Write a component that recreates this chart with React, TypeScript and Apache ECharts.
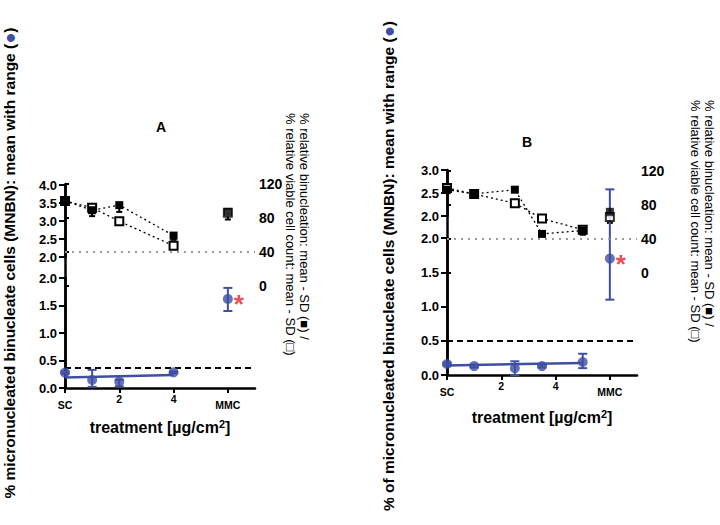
import React, { useEffect, useRef } from 'react';
import * as echarts from 'echarts';

const FONT = '"Liberation Sans", Arial, Helvetica, sans-serif';
const BLUE = '#3F4FA3';
const RED = '#E3202A';

// shared axis ticks
const xTickValues = [0, 2, 4, 6];
const xTickLabels = ['SC', '2', '4', 'MMC'];
const rightTickValues = [0, 40, 80, 120];
const mmcX = 6;
const cytoLimit = 40;

// ---------- Panel A ----------
const doseA = [0, 1, 2, 4];
const mnbnA = [0.28, 0.145, 0.115, 0.285];
const mnbnMinA = [0.26, 0.02, 0.03, 0.27];
const mnbnMaxA = [0.3, 0.33, 0.15, 0.3];
const fitXA = [0, 4];
const fitA = [0.19, 0.235];
const mmcMnbnA = [1.62, 1.4, 1.82]; // mean, min, max
const binA = [100, 89, 95, 59];
const binSdA = [0, 7, 8, 5];
const viaA = [100, 92, 76, 47];
const viaSdA = [0, 4, 0, 0];
const mmcBinA = [87, 9]; // mean, SD
const mmcViaA = [86, 0];
const limitA = 0.37;

// ---------- Panel B ----------
const doseB = [0, 1, 2.5, 3.5, 5];
const mnbnB = [0.16, 0.13, 0.1, 0.13, 0.19];
const mnbnMinB = [0.14, 0.11, 0.0, 0.11, 0.1];
const mnbnMaxB = [0.18, 0.15, 0.2, 0.15, 0.31];
const fitXB = [0, 5];
const fitB = [0.14, 0.175];
const mmcMnbnB = [1.7, 1.1, 2.71];
const binB = [98, 93, 98, 46, 50];
const binSdB = [4, 3, 0, 0, 5];
const viaB = [100, 93, 82, 64, 51];
const viaSdB = [0, 0, 0, 0, 0];
const mmcBinB = [72, 5];
const mmcViaB = [66, 7];
const limitB = 0.5;

const zip = (xs: number[], ys: number[]) => xs.map((x, i) => [x, ys[i]]);

const rangeRender = (color: string, cap: number, capTop: boolean) => (params: any, api: any) => {
  const x = api.value(0);
  const lo = api.value(1);
  const hi = api.value(2);
  const p1 = api.coord([x, hi]);
  const p2 = api.coord([x, lo]);
  const st = { stroke: color, lineWidth: 2 };
  const children: any[] = [
    { type: 'line', shape: { x1: p1[0], y1: p1[1], x2: p2[0], y2: p2[1] }, style: st },
    { type: 'line', shape: { x1: p2[0] - cap / 2, y1: p2[1], x2: p2[0] + cap / 2, y2: p2[1] }, style: st },
  ];
  if (capTop) {
    children.push({ type: 'line', shape: { x1: p1[0] - cap / 2, y1: p1[1], x2: p1[0] + cap / 2, y2: p1[1] }, style: st });
  }
  return { type: 'group', children };
};

const labelStyle = { color: '#000', fontFamily: FONT, fontWeight: 'bold' as const, fontSize: 13 };
const axisLine = { show: true, lineStyle: { color: '#000', width: 2.5 } };
const axisTick = { show: true, length: 5, lineStyle: { color: '#000', width: 2 } };

function panelAxes(base: number, upperMax: number, nameGap: number) {
  const xAxes: any[] = [
    { gridIndex: base, type: 'value', min: 0, max: 7, show: false },
    {
      gridIndex: base + 1,
      type: 'value',
      min: 0,
      max: 7,
      splitLine: { show: false },
      axisLine,
      axisTick: { ...axisTick, customValues: xTickValues },
      axisLabel: {
        customValues: xTickValues,
        margin: 5,
        formatter: (v: number) => {
          const i = xTickValues.indexOf(v);
          const t = i >= 0 ? xTickLabels[i] : '';
          return v === 0 || v === mmcX ? '{s|' + t + '}' : '{n|' + t + '}';
        },
        rich: {
          s: { fontFamily: FONT, fontWeight: 'bold', fontSize: 10.5, color: '#000', padding: [6, 0, 0, 0] },
          n: { fontFamily: FONT, fontWeight: 'bold', fontSize: 10.5, color: '#000' },
        },
      },
      name: 'treatment [µg/cm{sup|2}]',
      nameLocation: 'middle',
      nameGap,
      nameTextStyle: {
        fontFamily: FONT,
        fontWeight: 'bold',
        fontSize: 16,
        color: '#000',
        rich: { sup: { fontFamily: FONT, fontWeight: 'bold', fontSize: 11, color: '#000', verticalAlign: 'top', padding: [0, 0, 8, 0] } },
      },
    },
    { gridIndex: base + 2, type: 'value', min: 0, max: 7, show: false },
  ];
  const yAxes: any[] = [
    {
      gridIndex: base,
      type: 'value',
      min: 2,
      max: upperMax,
      interval: 0.5,
      position: 'left',
      splitLine: { show: false },
      axisLine,
      axisTick: { ...axisTick, length: 6 },
      axisLabel: { ...labelStyle, margin: 8, formatter: (v: number) => v.toFixed(1) },
    },
    {
      gridIndex: base + 1,
      type: 'value',
      min: 0,
      max: 2,
      interval: 0.5,
      position: 'left',
      splitLine: { show: false },
      axisLine,
      axisTick: { ...axisTick, length: 6 },
      axisLabel: { ...labelStyle, margin: 8, formatter: (v: number) => v.toFixed(1) },
    },
    {
      gridIndex: base + 2,
      type: 'value',
      min: -120,
      max: 120,
      interval: 40,
      position: 'right',
      splitLine: { show: false },
      axisLine,
      axisTick: { ...axisTick, length: 4, customValues: rightTickValues },
      axisLabel: { ...labelStyle, fontSize: 14, margin: 4, customValues: rightTickValues },
    },
  ];
  return { xAxes, yAxes };
}

function panelSeries(
  base: number,
  dose: number[],
  mnbn: number[],
  mnbnMin: number[],
  mnbnMax: number[],
  fitX: number[],
  fit: number[],
  mmcMnbn: number[],
  bin: number[],
  binSd: number[],
  via: number[],
  viaSd: number[],
  mmcBin: number[],
  mmcVia: number[],
  limit: number
) {
  const up = base;
  const lo = base + 1;
  const rt = base + 2;
  const sdBars: number[][] = [];
  dose.forEach((x, i) => {
    if (binSd[i] > 0) sdBars.push([x, bin[i] - binSd[i], bin[i]]);
    if (viaSd[i] > 0) sdBars.push([x, via[i] - viaSd[i], via[i]]);
  });
  if (mmcBin[1] > 0) sdBars.push([mmcX, mmcBin[0] - mmcBin[1], mmcBin[0]]);
  if (mmcVia[1] > 0) sdBars.push([mmcX, mmcVia[0] - mmcVia[1], mmcVia[0]]);

  const ranges = dose.map((x, i) => [x, mnbnMin[i], mnbnMax[i]]);
  ranges.push([mmcX, mmcMnbn[1], mmcMnbn[2]]);

  const dotted = { color: '#000', width: 1.3, type: [2, 3] as number[] };
  return [
    { type: 'scatter', xAxisIndex: up, yAxisIndex: up, data: [], silent: true },
    {
      type: 'custom',
      xAxisIndex: rt,
      yAxisIndex: rt,
      data: sdBars,
      renderItem: rangeRender('#000', 6, false),
      z: 3,
      silent: true,
    },
    {
      type: 'line',
      xAxisIndex: rt,
      yAxisIndex: rt,
      data: zip(dose, via),
      symbol: 'rect',
      symbolSize: 8,
      itemStyle: { color: '#fff', borderColor: '#000', borderWidth: 2 },
      lineStyle: dotted,
      z: 4,
      silent: true,
    },
    {
      type: 'line',
      xAxisIndex: rt,
      yAxisIndex: rt,
      data: zip(dose, bin),
      symbol: 'rect',
      symbolSize: 8,
      itemStyle: { color: '#000' },
      lineStyle: dotted,
      z: 5,
      silent: true,
      markLine: {
        silent: true,
        symbol: ['none', 'none'],
        label: { show: false },
        lineStyle: { color: '#9a9a9a', width: 2, type: [2, 5] },
        data: [{ yAxis: cytoLimit }],
      },
    },
    {
      type: 'scatter',
      xAxisIndex: rt,
      yAxisIndex: rt,
      data: [[mmcX, mmcVia[0]]],
      symbol: 'rect',
      symbolSize: 8,
      itemStyle: { color: '#fff', borderColor: '#000', borderWidth: 2 },
      z: 6,
      silent: true,
    },
    {
      type: 'scatter',
      xAxisIndex: rt,
      yAxisIndex: rt,
      data: [[mmcX, mmcBin[0]]],
      symbol: 'rect',
      symbolSize: 8,
      itemStyle: { color: '#000' },
      z: 7,
      silent: true,
    },
    {
      type: 'line',
      xAxisIndex: lo,
      yAxisIndex: lo,
      data: zip(fitX, fit),
      symbol: 'none',
      lineStyle: { color: BLUE, width: 2.5 },
      z: 3,
      silent: true,
      markLine: {
        silent: true,
        symbol: ['none', 'none'],
        label: { show: false },
        lineStyle: { color: '#000', width: 2, type: [6, 4] },
        data: [{ yAxis: limit }],
      },
    },
    {
      type: 'custom',
      xAxisIndex: lo,
      yAxisIndex: lo,
      data: ranges,
      renderItem: rangeRender(BLUE, 9, true),
      z: 4,
      silent: true,
    },
    {
      type: 'scatter',
      xAxisIndex: lo,
      yAxisIndex: lo,
      data: [...zip(dose, mnbn), [mmcX, mmcMnbn[0]]],
      symbol: 'circle',
      symbolSize: 10,
      itemStyle: { color: BLUE },
      z: 5,
      silent: true,
    },
    {
      type: 'scatter',
      xAxisIndex: lo,
      yAxisIndex: lo,
      data: [[mmcX, mmcMnbn[0]]],
      symbolSize: 0,
      label: {
        show: true,
        position: 'right',
        formatter: '*',
        offset: [1, 5],
        color: RED,
        fontFamily: FONT,
        fontWeight: 'bold',
        fontSize: 26,
      },
      z: 6,
      silent: true,
    },
  ];
}

export default function App() {
  const ref = useRef<HTMLDivElement>(null);
  useEffect(() => {
    if (!ref.current) return;
    const chart = echarts.init(ref.current, undefined, { renderer: 'svg' });
    const a = panelAxes(0, 4, 30);
    const b = panelAxes(3, 3, 33);
    const leftName = (t: string, size: number) => ({
      text: t + ' ({b|●})',
      fill: '#000',
      font: 'bold ' + size + 'px ' + FONT,
      align: 'center',
      verticalAlign: 'middle',
      rich: { b: { fill: BLUE, fontSize: size + 3, fontWeight: 'bold', fontFamily: FONT } },
    });
    const rightName = {
      text: '% relative binucleation: mean - SD (■) /\n% relative viable cell count: mean - SD (□)',
      fill: '#000',
      font: '13px ' + FONT,
      lineHeight: 14,
      align: 'left',
      verticalAlign: 'middle',
    };
    const option: any = {
      animation: false,
      backgroundColor: '#fff',
      grid: [
        { left: 65, top: 185, width: 190, height: 72 },
        { left: 65, top: 278, width: 190, height: 110 },
        { left: 65, top: 184, width: 190, height: 203 },
        { left: 447, top: 170, width: 190, height: 46 },
        { left: 447, top: 238, width: 190, height: 137 },
        { left: 447, top: 171, width: 190, height: 204 },
      ],
      xAxis: [...a.xAxes, ...b.xAxes],
      yAxis: [...a.yAxes, ...b.yAxes],
      series: [
        ...panelSeries(0, doseA, mnbnA, mnbnMinA, mnbnMaxA, fitXA, fitA, mmcMnbnA, binA, binSdA, viaA, viaSdA, mmcBinA, mmcViaA, limitA),
        ...panelSeries(3, doseB, mnbnB, mnbnMinB, mnbnMaxB, fitXB, fitB, mmcMnbnB, binB, binSdB, viaB, viaSdB, mmcBinB, mmcViaB, limitB),
      ],
      graphic: [
        { type: 'text', x: 161, y: 127, style: { text: 'A', fill: '#000', font: 'bold 14px ' + FONT, align: 'center', verticalAlign: 'middle' } },
        { type: 'text', x: 527, y: 142, style: { text: 'B', fill: '#000', font: 'bold 14px ' + FONT, align: 'center', verticalAlign: 'middle' } },
        { type: 'text', x: 9, y: 263, rotation: Math.PI / 2, style: leftName('% micronucleated binucleate cells (MNBN): mean with range', 15.5) },
        { type: 'text', x: 388, y: 266, rotation: Math.PI / 2, style: leftName('% of micronucleated binucleate cells (MNBN): mean with range', 15.5) },
        { type: 'text', x: 297, y: 113, rotation: -Math.PI / 2, style: rightName },
        { type: 'text', x: 702, y: 100, rotation: -Math.PI / 2, style: rightName },
      ],
    };
    chart.setOption(option);
    return () => chart.dispose();
  }, []);
  return <div ref={ref} style={{ position: 'absolute', left: 0, top: 0, width: 720, height: 525 }} />;
}
